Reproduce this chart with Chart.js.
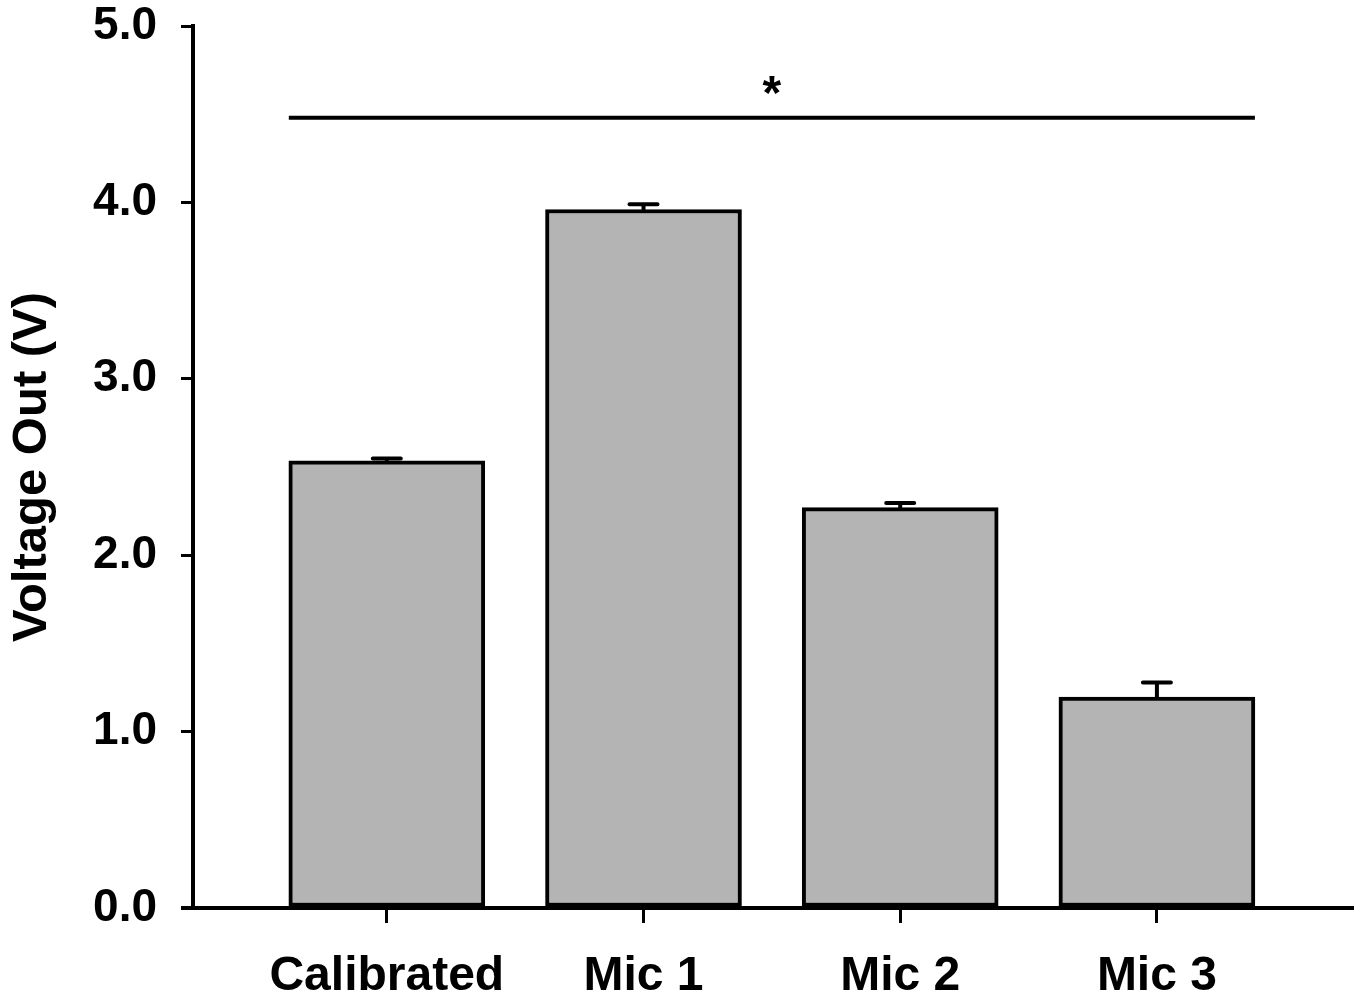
<!DOCTYPE html>
<html>
<head>
<meta charset="utf-8">
<script src="https://cdn.jsdelivr.net/npm/chart.js@4/dist/chart.umd.min.js"></script>
<style>
  html, body { margin: 0; padding: 0; background: #ffffff; }
  #wrap { width: 1360px; height: 998px; }
</style>
</head>
<body>
<div id="wrap"><canvas id="c"></canvas></div>
<script>
// Microphone output voltages
const categories = ['Calibrated', 'Mic 1', 'Mic 2', 'Mic 3'];
const meanVoltage = [2.535, 3.96, 2.27, 1.195];
const upperError = [0.013, 0.03, 0.026, 0.083];
const yTickValues = [0, 1, 2, 3, 4, 5];
const significance = { first: 0, last: 3, level: 4.48, mark: '*' };

const FONT = '"Liberation Sans", Arial, Helvetica, sans-serif';

// error bars, significance bar and the left stub of the x axis
const annotations = {
  id: 'annotations',
  afterDatasetsDraw(chart) {
    const ctx = chart.ctx;
    const xs = chart.scales.x, ys = chart.scales.y;
    const bars = chart.getDatasetMeta(0).data;
    ctx.save();
    ctx.strokeStyle = '#000';
    ctx.lineCap = 'round';
    ctx.lineWidth = 4;
    meanVoltage.forEach((v, i) => {
      const x = xs.getPixelForValue(i + 1);
      const y0 = ys.getPixelForValue(v);
      const y1 = ys.getPixelForValue(v + upperError[i]);
      ctx.beginPath();
      ctx.moveTo(x, y0); ctx.lineTo(x, y1);
      ctx.moveTo(x - 14, y1); ctx.lineTo(x + 14, y1);
      ctx.stroke();
    });
    // significance line across the groups
    const b0 = bars[significance.first], b1 = bars[significance.last];
    const ly = ys.getPixelForValue(significance.level);
    ctx.lineCap = 'butt';
    ctx.lineWidth = 4;
    ctx.beginPath();
    ctx.moveTo(b0.x - b0.width / 2, ly);
    ctx.lineTo(b1.x + b1.width / 2, ly);
    ctx.stroke();
    ctx.fillStyle = '#000';
    ctx.font = 'bold 48px ' + FONT;
    ctx.textAlign = 'center';
    ctx.textBaseline = 'middle';
    const mx = xs.getPixelForValue((significance.first + significance.last) / 2 + 1);
    ctx.fillText(significance.mark, mx, ys.getPixelForValue(4.65) + 8);
    // x axis line continues under the y tick marks
    const a = chart.chartArea;
    ctx.lineWidth = 4;
    ctx.beginPath();
    ctx.moveTo(a.left - 12, a.bottom);
    ctx.lineTo(a.left, a.bottom);
    ctx.stroke();
    ctx.restore();
  }
};

new Chart(document.getElementById('c'), {
  type: 'bar',
  data: {
    datasets: [{
      data: categories.map((c, i) => ({ x: i + 1, y: meanVoltage[i] })),
      backgroundColor: '#b4b4b4',
      borderColor: '#000000',
      borderWidth: 4,
      borderSkipped: false,
      barThickness: 196
    }]
  },
  options: {
    responsive: true,
    maintainAspectRatio: false,
    animation: false,
    layout: { padding: { top: 26, right: 8, bottom: 0, left: 0 } },
    plugins: { legend: { display: false }, tooltip: { enabled: false } },
    scales: {
      x: {
        type: 'linear',
        offset: false,
        min: 0.245,
        max: 4.76,
        afterFit(s) { s.height = 90; s.paddingLeft = 0; s.paddingRight = 0; },
        border: { display: true, color: '#000', width: 4 },
        grid: { offset: false, drawOnChartArea: false, drawTicks: true, tickLength: 15, color: '#000', lineWidth: 3 },
        ticks: {
          stepSize: 1,
          includeBounds: false,
          autoSkip: false,
          maxRotation: 0,
          padding: 25,
          color: '#000',
          font: { family: FONT, size: 48, weight: 'bold' },
          callback: v => (Number.isInteger(v) && v >= 1 && v <= categories.length) ? categories[v - 1] : ''
        }
      },
      y: {
        min: 0,
        max: 5,
        afterFit(s) { s.width = 193; s.paddingTop = 0; s.paddingBottom = 0; },
        afterBuildTicks(s) { s.ticks = yTickValues.map(v => ({ value: v })); },
        border: { display: true, color: '#000', width: 4 },
        grid: { drawOnChartArea: false, drawTicks: true, tickLength: 12, color: '#000', lineWidth: 3 },
        ticks: {
          padding: 24,
          color: '#000',
          font: { family: FONT, size: 46, weight: 'bold', lineHeight: 1 },
          callback: v => Number(v).toFixed(1)
        },
        title: {
          display: true,
          text: 'Voltage Out (V)',
          color: '#000',
          padding: { top: 3, bottom: 0 },
          font: { family: FONT, size: 49, weight: 'bold' }
        }
      }
    }
  },
  plugins: [annotations]
});
</script>
</body>
</html>
